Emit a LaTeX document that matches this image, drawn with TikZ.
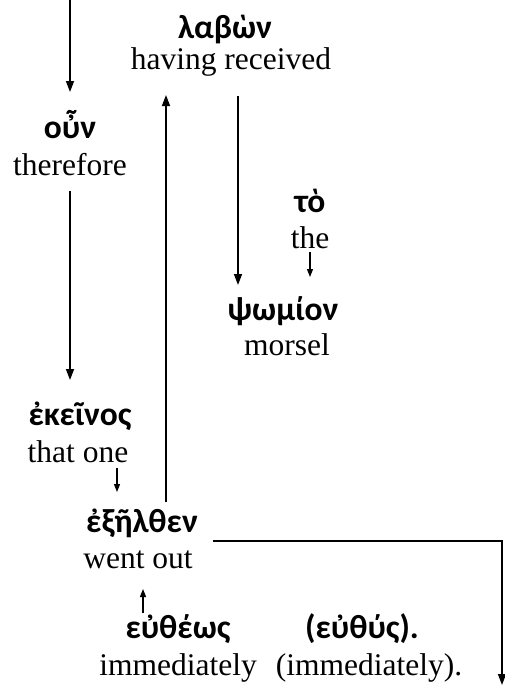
\documentclass[tikz,border=0pt]{standalone}
\usepackage{fontspec}
\setmainfont{Liberation Serif}
\newfontfamily\grk{Carlito}
\usetikzlibrary{arrows.meta,calc}
\begin{document}
\begin{tikzpicture}[x=1pt,y=-1pt,
  gr/.style={font=\grk\bfseries\fontsize{33.5}{36}\selectfont, inner sep=0pt, anchor=base},
  en/.style={font=\fontsize{31.5}{34}\selectfont, inner sep=0pt, anchor=base},
  arr/.style={line width=1.5pt,-{Triangle[length=11pt,width=8pt]}},
  sarr/.style={line width=1.3pt,-{Triangle[length=8pt,width=6pt]}},
  line/.style={line width=1.5pt}]
\useasboundingbox (0,0) rectangle (504,685);
% words
\node[gr] (labon) at (225,38) {λαβὼν};
\node[en] (having) at (231,70) {having received};
\node[gr] (oun) at (70,138) {οὖν};
\node[en] (therefore) at (70,175) {therefore};
\node[gr] (to) at (310,212) {τὸ};
\node[en] (the) at (310,248) {the};
\node[gr] (psomion) at (283,320) {ψωμίον};
\node[en] (morsel) at (287,355) {morsel};
\node[gr] (ekeinos) at (80,425) {ἐκεῖνος};
\node[en] (thatone) at (78,462) {that one};
\node[gr] (exelthen) at (142,532) {ἐξῆλθεν};
\node[en] (wentout) at (138,568) {went out};
\node[gr] (eutheos) at (178,638) {εὐθέως};
\node[en] (immed) at (178,675) {immediately};
\node[gr] (euthys) at (362,638) {(εὐθύς).};
\node[en] (immed2) at (369,675) {(immediately).};
% arrow ends
\coordinate (inTop) at (70,0);
\coordinate (ounTop) at (70,92);
\coordinate (thereBot) at (70,191);
\coordinate (ekTop) at (70,380);
\coordinate (thatBot) at (117,468);
\coordinate (exTop) at (117,492);
\coordinate (exUp) at (166,502);
\coordinate (labBot) at (166,95);
\coordinate (havBot) at (238,96);
\coordinate (psTop) at (238,285);
\coordinate (theBot) at (310,252);
\coordinate (psTop2) at (310,277);
\coordinate (euTop) at (143,613);
\coordinate (wentBot) at (143,589);
\coordinate (exRight) at (213,541);
\coordinate (corner) at (502,541);
\coordinate (outEnd) at (502,685);
% connectors
\draw[arr] (inTop) -- (ounTop);
\draw[arr] (thereBot) -- (ekTop);
\draw[sarr] (thatBot) -- (exTop);
\draw[arr] (exUp) -- (labBot);
\draw[arr] (havBot) -- (psTop);
\draw[sarr] (theBot) -- (psTop2);
\draw[sarr] (euTop) -- (wentBot);
\draw[arr] (exRight) -- (corner) -- (outEnd);
\end{tikzpicture}
\end{document}
